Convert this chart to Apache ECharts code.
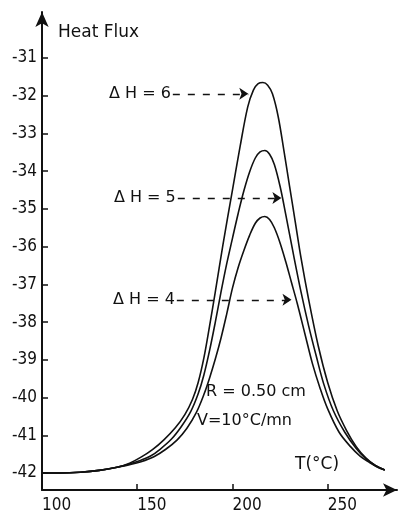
<!DOCTYPE html>
<html>
<head>
<meta charset="utf-8">
<script src="https://cdn.jsdelivr.net/npm/echarts@6/dist/echarts.min.js"></script>
<style>
  html, body { margin: 0; padding: 0; background: #fff; }
  #chart { width: 398px; height: 514px; }
</style>
</head>
<body>
<div id="chart"></div>
<script>
// temperature ticks and heat-flux ticks
const xTicks = [100, 150, 200, 250]
const yTicks = [-42, -41, -40, -39, -38, -37, -36, -35, -34, -33, -32, -31]

// [T (°C), heat flux]
const curveDH6 = [
  [100, -42], [110, -42], [120, -41.98], [130, -41.93], [140, -41.84], [146, -41.74],
  [152, -41.58], [158, -41.38], [164, -41.12], [170, -40.8], [175, -40.45], [179, -40.05],
  [182, -39.6], [185, -38.95], [188, -38.1], [191, -37.2], [195, -35.95], [200, -34.5],
  [204, -33.35], [208, -32.3], [211, -31.85], [213.5, -31.68], [216, -31.65], [218.5, -31.72],
  [221, -31.95], [224, -32.55], [227, -33.45], [230, -34.4], [233, -35.35], [236, -36.3],
  [240, -37.4], [245, -38.62], [250, -39.6], [255, -40.35], [260, -40.88], [265, -41.3],
  [270, -41.6], [275, -41.8], [280, -41.92],
]
const curveDH5 = [
  [100, -42], [110, -42], [120, -41.98], [130, -41.93], [140, -41.84], [146, -41.76],
  [152, -41.66], [157, -41.55], [162, -41.37], [168, -41.1], [173, -40.78], [178, -40.38],
  [182, -39.9], [185, -39.4], [188, -38.75], [191, -38.0], [194, -37.2], [197, -36.45],
  [200, -35.78], [203, -35.12], [206, -34.52], [209, -34.02], [212, -33.65], [214.5, -33.49],
  [217, -33.45], [219.5, -33.55], [222, -33.82], [225, -34.4], [228, -35.15], [232, -36.2],
  [236, -37.2], [240, -38.1], [244, -38.9], [248, -39.65], [253, -40.35], [259, -40.92],
  [265, -41.35], [270, -41.62], [275, -41.8], [280, -41.92],
]
const curveDH4 = [
  [100, -42], [110, -42], [120, -41.98], [130, -41.93], [140, -41.84], [146, -41.78],
  [152, -41.7], [159, -41.56], [165, -41.37], [171, -41.12], [176, -40.82], [181, -40.4],
  [185, -39.92], [188, -39.48], [191, -38.98], [194, -38.42], [197, -37.78], [200, -37.1],
  [203, -36.55], [206, -36.1], [209, -35.7], [212, -35.38], [214.5, -35.24], [217, -35.2],
  [219.5, -35.28], [222, -35.5], [225, -35.9], [228, -36.4], [231, -36.95], [234, -37.5],
  [238, -38.3], [242, -39.1], [246, -39.75], [250, -40.3], [256, -40.92], [262, -41.3],
  [267, -41.55], [272, -41.72], [276, -41.84], [280, -41.92],
]

// dashed pointer arrows: label, start, end
const pointerLabels = ['Δ H = 6', 'Δ H = 5', 'Δ H = 4']
const pointerStarts = [[168.7, -31.95], [171.3, -34.71], [170.8, -37.41]]
const pointerEnds = [[208.3, -31.95], [225.7, -34.71], [231, -37.41]]

const NUM_FONT = '"DejaVu Sans Condensed", "DejaVu Sans", sans-serif'
const TXT_FONT = '"DejaVu Sans", sans-serif'
const INK = '#111'

const chart = echarts.init(document.getElementById('chart'))

const curveSeries = [curveDH6, curveDH5, curveDH4].map((data, i) => ({
  name: pointerLabels[i],
  type: 'line',
  data,
  smooth: 0.35,
  showSymbol: false,
  silent: true,
  lineStyle: { color: INK, width: 1.6 },
}))

const pointerSeries = {
  type: 'lines',
  coordinateSystem: 'cartesian2d',
  symbol: ['none', 'arrow'],
  symbolSize: 9,
  silent: true,
  lineStyle: { color: INK, width: 1.3, type: [7, 8], opacity: 1, curveness: 0 },
  label: {
    show: true,
    position: 'start',
    distance: 2,
    color: INK,
    fontFamily: TXT_FONT,
    fontSize: 16,
    padding: [0, 0, 6, 0],
  },
  data: pointerLabels.map((name, i) => ({
    name,
    coords: [pointerStarts[i], pointerEnds[i]],
    label: { formatter: name },
  })),
}

chart.setOption({
  animation: false,
  backgroundColor: '#fff',
  grid: { left: 42, right: 1, top: 12, bottom: 24 },
  xAxis: {
    type: 'value',
    min: 100,
    max: 286.4,
    axisLine: {
      lineStyle: { color: INK, width: 2 },
      symbol: ['none', 'arrow'],
      symbolSize: [10, 14],
    },
    axisTick: { inside: true, length: 6, lineStyle: { color: INK, width: 1.5 }, customValues: xTicks },
    axisLabel: {
      customValues: xTicks,
      color: INK,
      fontFamily: NUM_FONT,
      fontSize: 17,
      margin: 7,
      align: 'left',
    },
    splitLine: { show: false },
  },
  yAxis: {
    type: 'value',
    min: -42.45,
    max: -29.78,
    axisLine: {
      lineStyle: { color: INK, width: 2 },
      symbol: ['none', 'arrow'],
      symbolSize: [10, 15],
    },
    axisTick: { inside: true, length: 6, lineStyle: { color: INK, width: 1.5 }, customValues: yTicks },
    axisLabel: {
      customValues: yTicks,
      color: INK,
      fontFamily: NUM_FONT,
      fontSize: 17,
      margin: 5,
      verticalAlign: 'middle',
      padding: [0, 0, 8, 0],
    },
    splitLine: { show: false },
  },
  graphic: [
    { type: 'text', left: 58, top: 24, style: { text: 'Heat Flux', font: '17px ' + TXT_FONT, fill: INK } },
    { type: 'text', left: 206, top: 384, style: { text: 'R = 0.50 cm', font: '16px ' + TXT_FONT, fill: INK } },
    { type: 'text', left: 197, top: 413, style: { text: 'V=10°C/mn', font: '16px ' + TXT_FONT, fill: INK } },
    { type: 'text', left: 295, top: 456, style: { text: 'T(°C)', font: '17px ' + TXT_FONT, fill: INK } },
  ],
  series: [...curveSeries, pointerSeries],
})
</script>
</body>
</html>
